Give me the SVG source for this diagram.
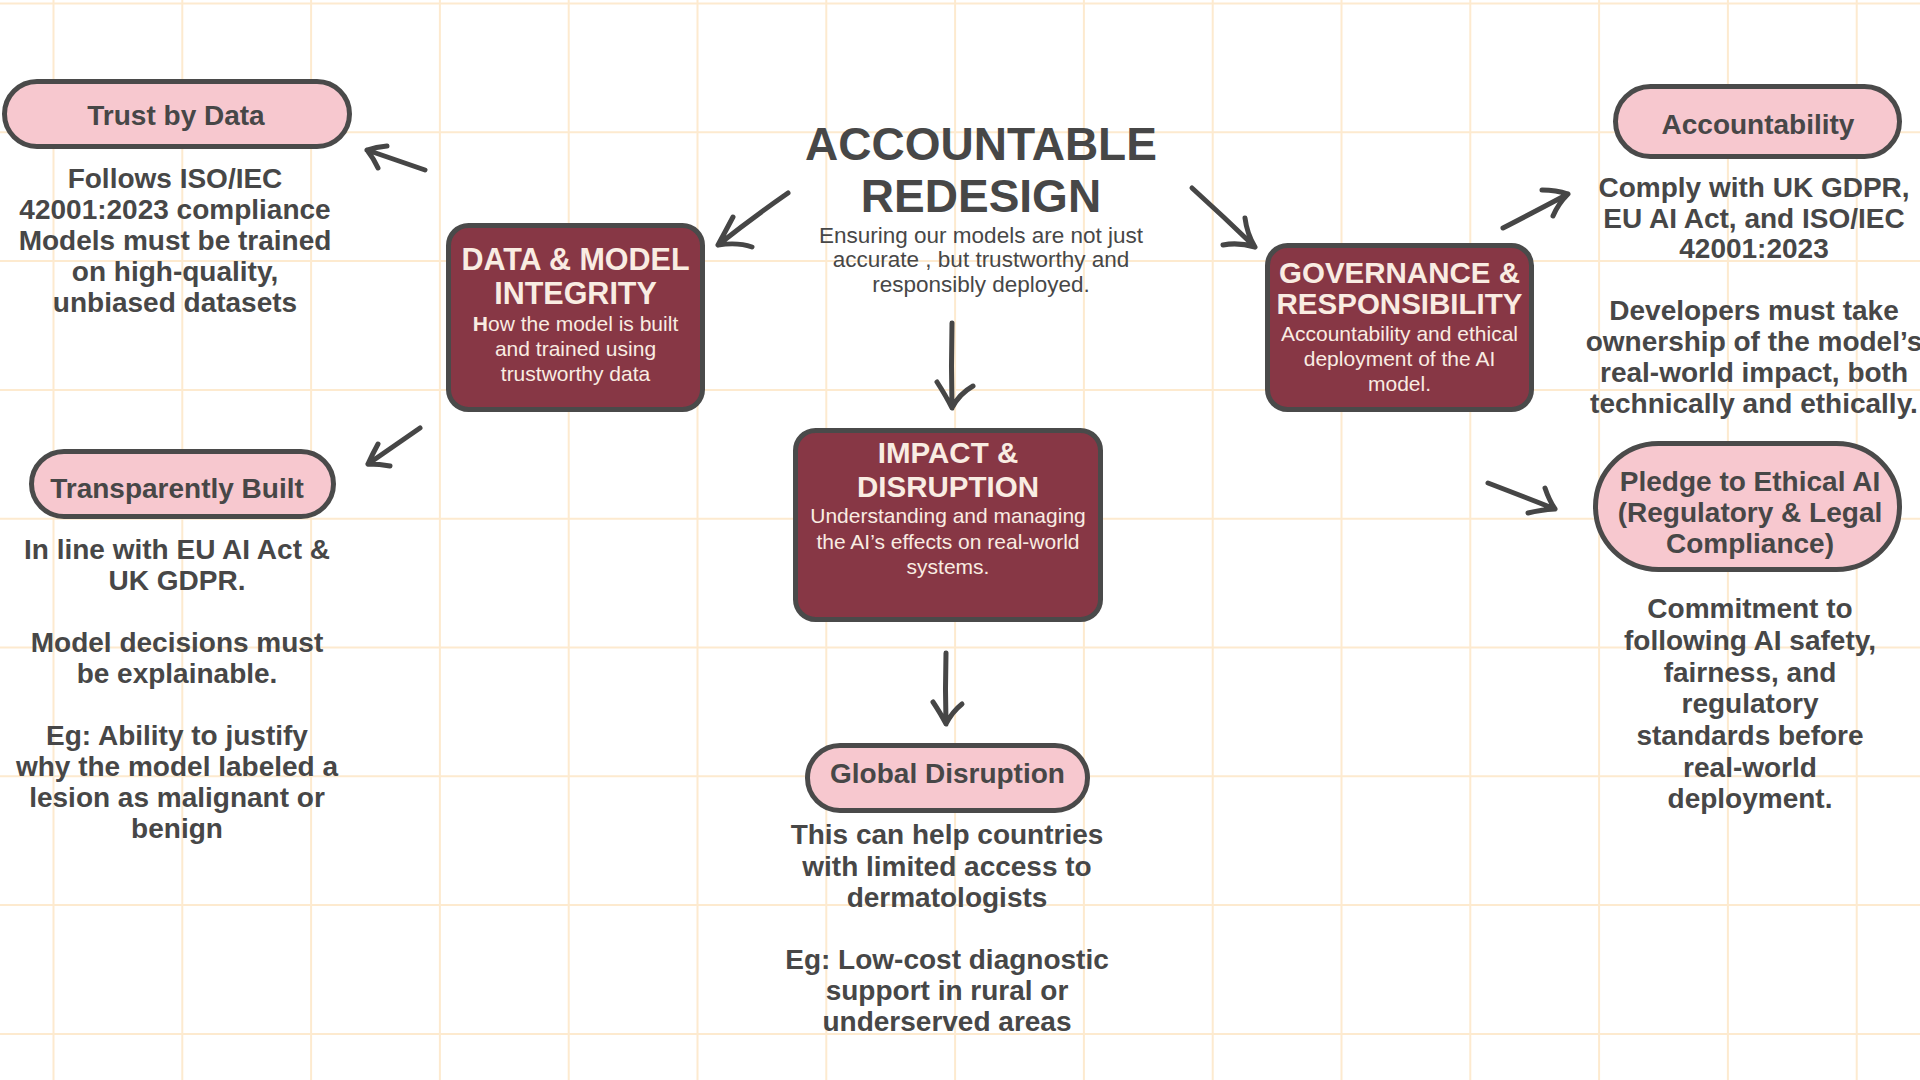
<svg xmlns="http://www.w3.org/2000/svg" width="1920" height="1080" viewBox="0 0 1920 1080">
<defs>
<style>
.grid line{stroke:#fdeacf;stroke-width:2}
.pill{fill:#f7c8cf;stroke:#4a4a4a;stroke-width:5}
.box{fill:#873745;stroke:#4a4a4a;stroke-width:5}
text{font-family:"Liberation Sans",Arial,Helvetica,sans-serif;text-anchor:middle}
.lbl{font-size:28px;font-weight:bold;fill:#474747}
.body{font-size:28px;font-weight:bold;fill:#474747}
.bt{font-size:29.5px;font-weight:bold;fill:#f9ece2}
.bt2{font-size:30.5px;font-weight:bold;fill:#f9ece2}
.bs{font-size:21px;fill:#f9ece2}
.title{font-size:46px;font-weight:bold;fill:#474747}
.sub{font-size:22.5px;fill:#474747}
.conn path{fill:none;stroke:#464646;stroke-width:5;stroke-linecap:round;stroke-linejoin:round}
</style>
</defs>
<rect width="1920" height="1080" fill="#ffffff"/>
<g class="grid">
<line x1="53.5" y1="0" x2="53.5" y2="1080"/>
<line x1="182.3" y1="0" x2="182.3" y2="1080"/>
<line x1="311.1" y1="0" x2="311.1" y2="1080"/>
<line x1="439.9" y1="0" x2="439.9" y2="1080"/>
<line x1="568.7" y1="0" x2="568.7" y2="1080"/>
<line x1="697.5" y1="0" x2="697.5" y2="1080"/>
<line x1="826.3" y1="0" x2="826.3" y2="1080"/>
<line x1="955.1" y1="0" x2="955.1" y2="1080"/>
<line x1="1083.9" y1="0" x2="1083.9" y2="1080"/>
<line x1="1212.7" y1="0" x2="1212.7" y2="1080"/>
<line x1="1341.5" y1="0" x2="1341.5" y2="1080"/>
<line x1="1470.3" y1="0" x2="1470.3" y2="1080"/>
<line x1="1599.1" y1="0" x2="1599.1" y2="1080"/>
<line x1="1727.9" y1="0" x2="1727.9" y2="1080"/>
<line x1="1856.7" y1="0" x2="1856.7" y2="1080"/>
<line x1="0" y1="3.5" x2="1920" y2="3.5"/>
<line x1="0" y1="132.3" x2="1920" y2="132.3"/>
<line x1="0" y1="261.1" x2="1920" y2="261.1"/>
<line x1="0" y1="389.9" x2="1920" y2="389.9"/>
<line x1="0" y1="518.7" x2="1920" y2="518.7"/>
<line x1="0" y1="647.5" x2="1920" y2="647.5"/>
<line x1="0" y1="776.3" x2="1920" y2="776.3"/>
<line x1="0" y1="905.1" x2="1920" y2="905.1"/>
<line x1="0" y1="1033.9" x2="1920" y2="1033.9"/>
</g>

<g class="conn" id="connectors">
<path d="M788,193 Q752,218 718,245 M733,217 Q724,234 718,245 Q738,242 752,247"/>
<path d="M952,323 Q951,366 952,408 M937,382 Q946,396 952,408 Q959,394 973,386"/>
<path d="M946,653 Q945,689 946,724 M933,702 Q941,714 946,724 Q952,712 962,704"/>
<path d="M1192,188 Q1224,217 1255,247 M1245,218 Q1247,234 1255,247 Q1238,242 1223,245"/>
<path d="M1503,228 Q1536,211 1568,194 M1542,190 Q1556,190 1568,194 Q1558,204 1553,216"/>
<path d="M1488,483 Q1522,496 1555,509 M1545,488 Q1549,500 1555,509 Q1540,510 1528,513"/>
<path d="M425,170 Q396,160 367,150 M387,146 Q376,147 367,150 Q374,159 378,168"/>
<path d="M420,428 Q394,446 368,464 M378,444 Q372,455 368,464 Q380,464 390,466"/>
</g>

<g id="title">
<text class="title" x="981" y="160">ACCOUNTABLE</text>
<text class="title" x="981" y="212">REDESIGN</text>
<text class="sub" x="981" y="243">Ensuring our models are not just</text>
<text class="sub" x="981" y="267">accurate , but trustworthy and</text>
<text class="sub" x="981" y="292">responsibly deployed.</text>
</g>

<g id="data-model-integrity">
<rect class="box" x="448.5" y="225.5" width="254" height="184" rx="20"/>
<text class="bt2" x="575.5" y="270">DATA &amp; MODEL</text>
<text class="bt2" x="575.5" y="304">INTEGRITY</text>
<text class="bs" x="575.5" y="331"><tspan font-weight="bold">H</tspan>ow the model is built</text>
<text class="bs" x="575.5" y="356">and trained using</text>
<text class="bs" x="575.5" y="381">trustworthy data</text>
</g>

<g id="impact-disruption">
<rect class="box" x="795.5" y="430.5" width="305" height="189" rx="20"/>
<text class="bt" x="948" y="463">IMPACT &amp;</text>
<text class="bt" x="948" y="497">DISRUPTION</text>
<text class="bs" x="948" y="523">Understanding and managing</text>
<text class="bs" x="948" y="549">the AI’s effects on real-world</text>
<text class="bs" x="948" y="574">systems.</text>
</g>

<g id="governance-responsibility">
<rect class="box" x="1267.5" y="245.5" width="264" height="164" rx="20"/>
<text class="bt" x="1399.5" y="283">GOVERNANCE &amp;</text>
<text class="bt" x="1399.5" y="314">RESPONSIBILITY</text>
<text class="bs" x="1399.5" y="341">Accountability and ethical</text>
<text class="bs" x="1399.5" y="366">deployment of the AI</text>
<text class="bs" x="1399.5" y="391">model.</text>
</g>

<g id="trust-by-data">
<rect class="pill" x="4.5" y="81.5" width="345" height="65" rx="32.5"/>
<text class="lbl" x="176" y="125">Trust by Data</text>
<text class="body" x="175" y="188">Follows ISO/IEC</text>
<text class="body" x="175" y="219">42001:2023 compliance</text>
<text class="body" x="175" y="250">Models must be trained</text>
<text class="body" x="175" y="281">on high-quality,</text>
<text class="body" x="175" y="312">unbiased datasets</text>
</g>

<g id="transparently-built">
<rect class="pill" x="31.5" y="451.5" width="302" height="65" rx="32.5"/>
<text class="lbl" x="177" y="498">Transparently Built</text>
<text class="body" x="177" y="559">In line with EU AI Act &amp;</text>
<text class="body" x="177" y="590">UK GDPR.</text>
<text class="body" x="177" y="652">Model decisions must</text>
<text class="body" x="177" y="683">be explainable.</text>
<text class="body" x="177" y="745">Eg: Ability to justify</text>
<text class="body" x="177" y="776">why the model labeled a</text>
<text class="body" x="177" y="807">lesion as malignant or</text>
<text class="body" x="177" y="838">benign</text>
</g>

<g id="global-disruption">
<rect class="pill" x="807.5" y="745.5" width="280" height="65" rx="32.5"/>
<text class="lbl" x="947.5" y="783">Global Disruption</text>
<text class="body" x="947" y="844">This can help countries</text>
<text class="body" x="947" y="876">with limited access to</text>
<text class="body" x="947" y="907">dermatologists</text>
<text class="body" x="947" y="969">Eg: Low-cost diagnostic</text>
<text class="body" x="947" y="1000">support in rural or</text>
<text class="body" x="947" y="1031">underserved areas</text>
</g>

<g id="accountability">
<rect class="pill" x="1615.5" y="86.5" width="284" height="70" rx="35"/>
<text class="lbl" x="1758" y="134">Accountability</text>
<text class="body" x="1754" y="197">Comply with UK GDPR,</text>
<text class="body" x="1754" y="228">EU AI Act, and ISO/IEC</text>
<text class="body" x="1754" y="258">42001:2023</text>
<text class="body" x="1754" y="320">Developers must take</text>
<text class="body" x="1754" y="351">ownership of the model’s</text>
<text class="body" x="1754" y="382">real-world impact, both</text>
<text class="body" x="1754" y="413">technically and ethically.</text>
</g>

<g id="pledge-ethical-ai">
<rect class="pill" x="1595.5" y="443.5" width="304" height="126" rx="63"/>
<text class="lbl" x="1750" y="491">Pledge to Ethical AI</text>
<text class="lbl" x="1750" y="522">(Regulatory &amp; Legal</text>
<text class="lbl" x="1750" y="553">Compliance)</text>
<text class="body" x="1750" y="618">Commitment to</text>
<text class="body" x="1750" y="650">following AI safety,</text>
<text class="body" x="1750" y="682">fairness, and</text>
<text class="body" x="1750" y="713">regulatory</text>
<text class="body" x="1750" y="745">standards before</text>
<text class="body" x="1750" y="777">real-world</text>
<text class="body" x="1750" y="808">deployment.</text>
</g>
</svg>
